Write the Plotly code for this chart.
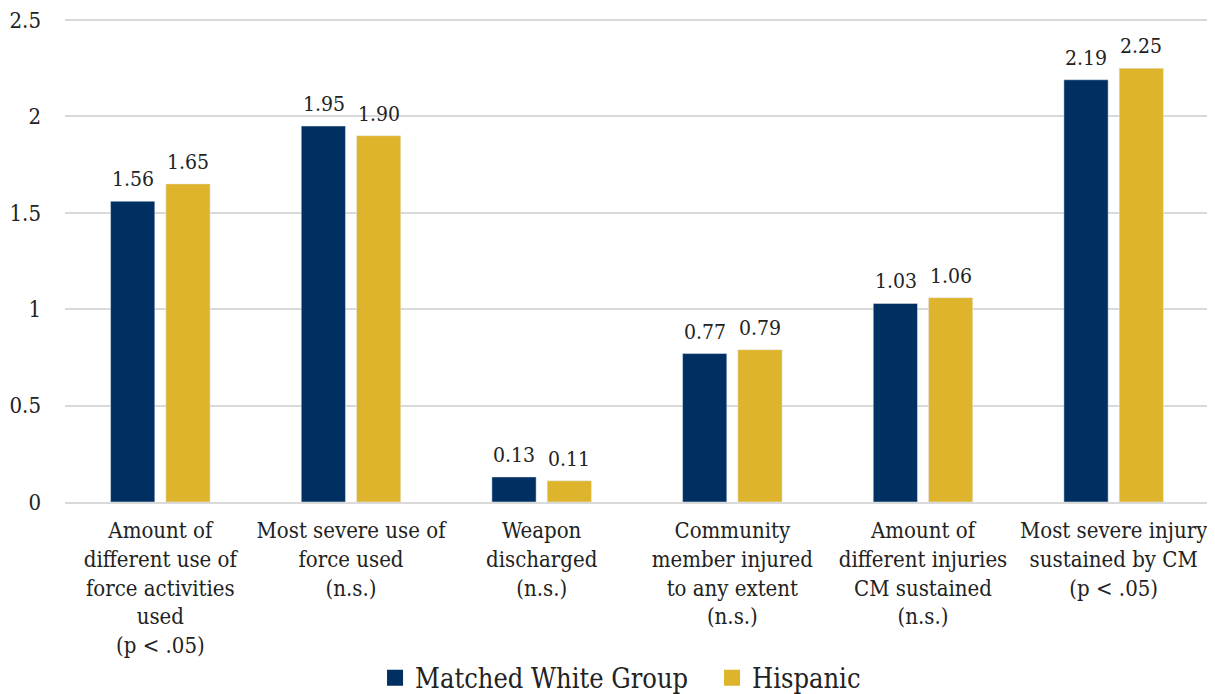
import plotly.graph_objects as go

categories = [
    "Amount of<br>different use of<br>force activities<br>used<br>(p < .05)",
    "Most severe use of<br>force used<br>(n.s.)",
    "Weapon<br>discharged<br>(n.s.)",
    "Community<br>member injured<br>to any extent<br>(n.s.)",
    "Amount of<br>different injuries<br>CM sustained<br>(n.s.)",
    "Most severe injury<br>sustained by CM<br>(p < .05)",
]
white_vals = [1.56, 1.95, 0.13, 0.77, 1.03, 2.19]
hisp_vals = [1.65, 1.90, 0.11, 0.79, 1.06, 2.25]
series_names = ["Matched White Group", "Hispanic"]
colors = ["#002F62", "#DDB42B"]

FONT = "DejaVu Serif Condensed, Liberation Serif, serif"
TXT = "#222"

fig = go.Figure()
for name, vals, col in zip(series_names, [white_vals, hisp_vals], colors):
    fig.add_trace(go.Bar(
        x=categories, y=vals, name=name, marker_color=col, showlegend=False,
        offsetgroup=name,
    ))
    # legend entry with a larger square symbol
    fig.add_trace(go.Scatter(
        x=[None], y=[None], name=name, mode="markers",
        marker=dict(symbol="square", size=16, color=col),
    ))

# data labels, raised a little above the bars
bar_half = 27.5
for vals, sign in zip([white_vals, hisp_vals], [-1, 1]):
    for c, v in zip(categories, vals):
        fig.add_annotation(
            x=c, y=v, xref="x", yref="y", text=f"{v:.2f}", showarrow=False,
            xshift=sign * bar_half, yshift=8, yanchor="bottom",
            font=dict(family=FONT, size=21, color=TXT),
        )

# page body has an 8px default margin, so the figure is sized/offset accordingly
PLOT_TOP, PLOT_H = 2, 686 - 2 - 192
y_max = 2.5 * PLOT_H / (PLOT_H - 10)   # keeps the 2.5 gridline 10px below the plot top

fig.update_layout(
    width=1207, height=686,
    margin=dict(l=57, r=6, t=PLOT_TOP, b=192),
    plot_bgcolor="white", paper_bgcolor="white",
    barmode="group", bargap=0.42, bargroupgap=0.2,
    font=dict(family=FONT, size=21, color=TXT),
    legend=dict(orientation="h", x=0.5656, xanchor="center",
                yref="container", y=0.023, yanchor="middle",
                font=dict(family=FONT, size=27, color=TXT),
                traceorder="normal", itemclick=False, entrywidth=292),
    xaxis=dict(showline=True, linecolor="#d9d9d9", linewidth=2, automargin=False,
               tickfont=dict(family=FONT, size=22, color=TXT), ticks="",
               ticklabelstandoff=8),
    yaxis=dict(range=[0, y_max], tick0=0, dtick=0.5, gridcolor="#d9d9d9", gridwidth=2,
               zeroline=False, tickfont=dict(family=FONT, size=22, color=TXT),
               ticklabelstandoff=23, tickformat="~g", automargin=False,
               ticklabeloverflow="allow"),
)
fig.write_html("out.html")
